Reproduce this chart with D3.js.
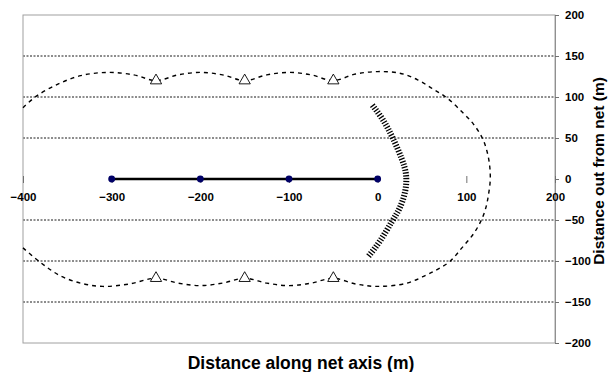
<!DOCTYPE html>
<html><head><meta charset="utf-8">
<script src="https://cdn.jsdelivr.net/npm/d3@7"></script>
<style>
body{margin:0;background:#fff;}
text{font-family:Arial,"Liberation Sans",sans-serif;font-weight:bold;fill:#000;}
</style></head>
<body><svg id="c" width="611" height="372"></svg>
<script>
const xTicks = [-400,-300,-200,-100,0,100,200];
const yTicks = [200,150,100,50,0,-50,-100,-150,-200];
const gridValues = [150,100,50,-50,-100,-150];
// Net (line with node markers)
const netX = [-300,-200,-100,0];
const netY = [0,0,0,0];
// Outer detection contour (upper half then lower half)
const contourUpper = [[-400,87],[-385,101],[-360,116],[-335,126],[-305,130],[-275,127],[-250,120],[-225,127],[-200,130],[-175,127],[-150,120],[-125,127],[-100,130],[-75,127],[-50,120],[-25,128],[0,131],[25,129],[45,121],[62,110],[78,99],[95,82],[108,67],[118,50],[123,35],[126,19],[127,0]];
const contourLower = [[127,0],[125,-19],[122,-35],[117,-50],[108,-67],[95,-84],[82,-100],[68,-110],[55,-117],[33,-127],[0,-131],[-25,-128],[-50,-121],[-75,-127],[-100,-130],[-125,-127],[-150,-121],[-175,-127],[-200,-130],[-225,-127],[-250,-121],[-280,-128],[-310,-131],[-335,-127],[-358,-118],[-380,-102],[-400,-84]];
// Triangle markers
const triX = [-250,-150,-50,-250,-150,-50];
const triY = [120,120,120,-121,-121,-121];
// Inner hatched arc
const arcPts = [[-6,90],[6,72],[17,50],[27,25],[32,5],[31,-15],[25,-35],[16,-52],[3,-75],[-11,-95]];

const svg = d3.select("#c");
const x = d3.scaleLinear().domain([-400,200]).range([23,555]);
const y = d3.scaleLinear().domain([-200,200]).range([343,15]);

// gridlines
svg.append("g").selectAll("line").data(gridValues).join("line")
  .attr("x1",x(-400)).attr("x2",x(200)).attr("y1",d=>y(d)).attr("y2",d=>y(d))
  .attr("stroke","#000").attr("stroke-width",0.9).attr("stroke-dasharray","2,1.5");

// plot border
svg.append("rect").attr("x",x(-400)).attr("y",y(200)).attr("width",x(200)-x(-400)).attr("height",y(-200)-y(200))
  .attr("fill","none").attr("stroke","#a0a0a0").attr("stroke-width",1);

// right y axis
const yAxis = d3.axisRight(y).tickValues(yTicks).tickSize(4).tickPadding(6).tickFormat(d3.format("d"));
const ya = svg.append("g").attr("transform",`translate(${x(200)},0)`).call(yAxis);
ya.select(".domain").attr("stroke","#909090");
ya.selectAll(".tick line").attr("stroke","#707070");
ya.selectAll("text").style("font-size","11.5px").attr("fill","#000");

// x axis at y=0 (no visible line)
const xAxis = d3.axisBottom(x).tickValues(xTicks).tickSize(4).tickPadding(10).tickFormat(d3.format("d"));
const xa = svg.append("g").attr("transform",`translate(0,${y(0)})`).call(xAxis);
xa.select(".domain").remove();
xa.selectAll(".tick line").attr("stroke","#707070").attr("y1",-3).attr("y2",4);
xa.selectAll("text").style("font-size","11.5px").attr("fill","#000");

// outer contour
const line = d3.line().x(d=>x(d[0])).y(d=>y(d[1])).curve(d3.curveCatmullRom);
svg.append("path").attr("d",line(contourUpper.concat(contourLower.slice(1))))
  .attr("fill","none").attr("stroke","#000").attr("stroke-width",1.4).attr("stroke-dasharray","4,4");

// hatched arc
const arcLine = d3.line().x(d=>x(d[0])).y(d=>y(d[1])).curve(d3.curveNatural);
svg.append("path").attr("d",arcLine(arcPts))
  .attr("fill","none").attr("stroke","#000").attr("stroke-width",6).attr("stroke-dasharray","1.3,1.6");

// triangles
svg.append("g").selectAll("path").data(triX.map((v,i)=>[v,triY[i]])).join("path")
  .attr("transform",d=>`translate(${x(d[0])},${y(d[1])})`)
  .attr("d",d3.symbol().type(d3.symbolTriangle).size(55))
  .attr("fill","#fff").attr("stroke","#000").attr("stroke-width",0.9);

// net
const netPts = netX.map((v,i)=>[v,netY[i]]);
svg.append("path").attr("d",d3.line().x(d=>x(d[0])).y(d=>y(d[1]))(netPts))
  .attr("stroke","#000").attr("stroke-width",2.7).attr("fill","none");
svg.append("g").selectAll("circle").data(netPts).join("circle")
  .attr("cx",d=>x(d[0])).attr("cy",d=>y(d[1])).attr("r",3.4).attr("fill","#000066");

// titles
svg.append("text").attr("x",301).attr("y",369).attr("text-anchor","middle").style("font-size","17.5px")
  .text("Distance along net axis (m)");
svg.append("text").attr("transform",`translate(604,${(72+270)/2}) rotate(-90)`).attr("text-anchor","middle")
  .style("font-size","15.5px").text("Distance out from net (m)");
</script></body></html>
